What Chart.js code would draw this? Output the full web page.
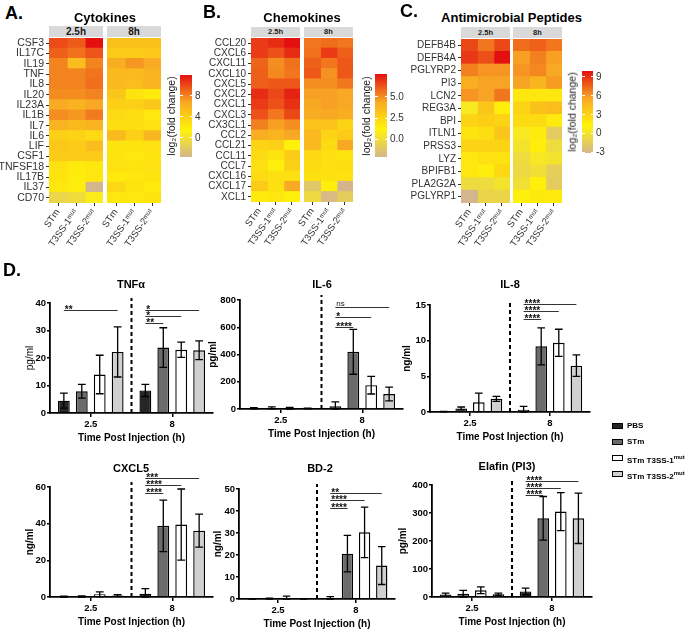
<!DOCTYPE html>
<html>
<head>
<meta charset="utf-8">
<title>Host response to STm and T3SS mutants</title>
<script src="https://cdn.jsdelivr.net/npm/chart.js@4.4.1/dist/chart.umd.min.js"></script>
<style>
  body { margin: 0; background: #fff; }
  #fig { position: relative; width: 696px; height: 631px; overflow: hidden; font-family: "Liberation Sans", Arial, sans-serif; }
  #fig canvas { position: absolute; }
  .t { position: absolute; white-space: nowrap; line-height: 1; transform: translate(-50%, -50%); }
  .strip { position: absolute; background: #d9d9d9; color: #1a1a1a; font-weight: bold; display: flex; align-items: center; justify-content: center; line-height: 1; }
  .lg { position: absolute; font-weight: bold; font-size: 8px; line-height: 1; white-space: nowrap; }
  .lg sup { font-size: 6px; }
</style>
</head>
<body>
<div id="fig"></div>
<script>
// ---- heatmaps: log2(fold change), rows = genes, cols = STm, T3SS-1mut, T3SS-2mut ----
const heatCols = ['STm', 'T3SS-1ᵐᵘᵗ', 'T3SS-2ᵐᵘᵗ'];

const cytoGenes = ['CSF3', 'IL17C', 'IL19', 'TNF', 'IL8', 'IL20', 'IL23A', 'IL1B', 'IL7', 'IL6', 'LIF', 'CSF1', 'TNFSF18', 'IL17B', 'IL37', 'CD70'];
const cyto2h = [[9.9, 9.4, 11.9], [9.2, 8.6, 9.6], [8.0, 5.3, 8.0], [8.0, 8.0, 8.5], [8.0, 8.0, 8.7], [7.7, 7.7, 8.0],
  [6.5, 6.0, 6.7], [7.7, 7.3, 8.3], [6.0, 5.5, 6.0], [4.0, 3.7, 3.3], [4.5, 4.3, 5.3], [4.3, 4.3, 4.3],
  [2.8, 2.1, 2.4], [2.6, 2.0, 2.4], [2.4, 2.0, -3.6], [-1.0, -0.5, 1.05]];
const cyto8h = [[5.0, 5.0, 5.0], [4.3, 4.3, 4.5], [6.3, 7.3, 6.5], [5.5, 5.5, 6.0], [5.5, 5.3, 6.0], [4.7, 2.6, 2.2],
  [4.0, 4.0, 4.7], [3.3, 3.0, 2.4], [3.0, 3.0, 2.8], [5.5, 4.0, 5.7], [2.6, 2.6, 2.8], [2.6, 2.4, 2.6],
  [2.8, 2.6, 2.8], [2.2, 2.4, 2.6], [3.5, 2.6, 2.1], [2.4, 2.4, 2.6]];

const chemoGenes = ['CCL20', 'CXCL6', 'CXCL11', 'CXCL10', 'CXCL5', 'CXCL2', 'CXCL1', 'CXCL3', 'CX3CL1', 'CCL2', 'CCL21', 'CCL11', 'CCL7', 'CXCL16', 'CXCL17', 'XCL1'];
const chemo2h = [[6.8, 7.1, 7.7], [6.8, 6.3, 7.1], [5.9, 5.0, 5.6], [6.0, 5.1, 5.5], [6.0, 6.15, 6.15], [7.1, 6.5, 7.3],
  [6.8, 6.3, 7.0], [6.3, 5.5, 6.5], [5.3, 4.6, 5.0], [4.2, 3.9, 4.4], [2.5, 2.7, 1.3], [2.2, 1.8, 2.9],
  [2.0, 1.3, 2.7], [2.2, 2.0, 2.0], [2.9, 2.0, 4.4], [1.5, 1.7, 1.3]];
const chemo8h = [[5.5, 5.7, 5.5], [5.6, 6.8, 6.0], [6.0, 5.5, 6.15], [6.15, 4.9, 6.15], [5.0, 5.0, 5.5], [4.6, 4.6, 4.4],
  [4.4, 4.6, 4.4], [4.2, 4.4, 4.2], [3.3, 3.3, 2.5], [3.7, 2.5, 2.9], [3.7, 2.2, 4.4], [2.3, 2.0, 1.8],
  [2.2, 2.0, 2.1], [2.0, 1.9, 1.9], [-1.2, 1.4, -2.1], [-0.2, -1.9, -0.9]];

const ampGenes = ['DEFB4B', 'DEFB4A', 'PGLYRP2', 'PI3', 'LCN2', 'REG3A', 'BPI', 'ITLN1', 'PRSS3', 'LYZ', 'BPIFB1', 'PLA2G2A', 'PGLYRP1'];
const amp2h = [[8.3, 7.0, 8.3], [8.75, 8.1, 9.9], [6.7, 6.1, 6.1], [5.2, 5.7, 5.7], [6.1, 5.7, 7.0], [0.5, 3.9, 1.5],
  [3.0, 3.3, 3.0], [2.1, 2.4, 3.9], [3.0, 3.0, 3.0], [1.9, 2.3, 2.3], [1.9, 1.5, 2.8], [-0.5, -0.5, 0.1], [-3.1, -0.9, -0.9]];
const amp8h = [[7.25, 7.6, 7.0], [5.8, 6.7, 5.8], [6.1, 6.5, 5.5], [5.7, 4.8, 5.9], [1.9, 1.9, 1.9], [3.0, 4.1, 4.3],
  [2.6, 2.6, 1.7], [0.5, 1.7, -1.6], [0.1, 1.5, -0.5], [-0.5, 0.4, 0.1], [-0.6, -0.2, -1.4], [-0.2, 1.4, -1.6], [1.4, 1.8, 1.7]];

// ---- bar panels: mean / SD per [time][strain] ----
const timeLabels = ['2.5', '8'];
const strains = ['PBS', 'STm', 'STm T3SS-1mut', 'STm T3SS-2mut'];

const tnfMean = [[4.5, 7.9, 14.0, 22.2], [8.2, 23.8, 23.0, 22.8]];
const tnfSd = [[2.7, 2.5, 7.0, 9.1], [2.2, 7.2, 2.8, 3.4]];
const il6Mean = [[5, 8, 6, 4], [20, 420, 175, 110]];
const il6Sd = [[4, 7, 6, 3], [32, 165, 65, 50]];
const il8Mean = [[0.05, 0.5, 1.35, 1.85], [0.3, 9.2, 9.7, 6.5]];
const il8Sd = [[0.03, 0.2, 1.3, 0.35], [0.5, 2.6, 1.9, 1.5]];
const cxcl5Mean = [[0.2, 0.3, 1.5, 0.8], [1.8, 38.8, 39.5, 36.2]];
const cxcl5Sd = [[0.2, 0.3, 1.3, 0.5], [2.8, 14, 19.4, 9]];
const bd2Mean = [[0.1, 0.15, 0.4, 0.1], [0.3, 20.6, 30.3, 15.2]];
const bd2Sd = [[0.1, 0.2, 0.9, 0.1], [0.8, 8.3, 11.5, 8.6]];
const elafinMean = [[8.5, 12, 24, 9.5], [20, 281, 305, 281]];
const elafinSd = [[5.5, 12, 12, 4], [12, 78, 68, 90]];

// significance brackets vs PBS: time index, strain index, height (axis units), label
const tnfSig = [[0, 3, 37.6, '**'], [1, 3, 37.6, '*'], [1, 2, 35.2, '*'], [1, 1, 32.7, '**']];
const il6Sig = [[1, 3, 751, 'ns'], [1, 2, 678, '*'], [1, 1, 605, '****']];
const il8Sig = [[1, 3, 15.1, '****'], [1, 2, 14.1, '****'], [1, 1, 13.1, '****']];
const cxcl5Sig = [[1, 3, 64.9, '***'], [1, 2, 61.3, '****'], [1, 1, 56.7, '****']];
const bd2Sig = [[1, 3, 48.2, '**'], [1, 2, 44.8, '****'], [1, 1, 41.4, '****']];
const elafinSig = [[1, 3, 415, '****'], [1, 2, 391, '****'], [1, 1, 366, '****']];

const barFills = ['#262626', '#6b6b6b', '#ffffff', '#d0d0d0'];
const heatStops = [[212, 182, 140], [255, 243, 10], [248, 168, 36], [228, 16, 16]];

Chart.defaults.font.family = '"Liberation Sans", Arial, sans-serif';

const fig = document.getElementById('fig');

function text(str, cx, cy, size, extra) {
  const d = document.createElement('div');
  d.className = 't';
  d.textContent = str;
  d.style.left = cx + 'px';
  d.style.top = cy + 'px';
  d.style.fontSize = size + 'px';
  Object.assign(d.style, extra || {});
  fig.appendChild(d);
  return d;
}

function makeCanvas(left, top, w, h) {
  const c = document.createElement('canvas');
  c.width = w;
  c.height = h;
  c.style.left = left + 'px';
  c.style.top = top + 'px';
  c.style.width = w + 'px';
  c.style.height = h + 'px';
  fig.appendChild(c);
  return c;
}

function heatColor(v, lo, hi) {
  const t = Math.min(Math.max((v - lo) / (hi - lo), 0), 1) * 3;
  const i = Math.min(Math.floor(t), 2);
  const f = t - i;
  const a = heatStops[i], b = heatStops[i + 1];
  return 'rgb(' + a.map((c, k) => Math.round(c + (b[k] - c) * f)).join(',') + ')';
}

// one facet of a heatmap, cells are stacked horizontal bars of width 1
function heatFacet(genes, rows, lo, hi, box, showGenes, fontSize) {
  const yW = showGenes ? box.yW : 0;
  const padL = showGenes ? 0 : 8, padR = 8, padT = 10, xH = 52;
  const cw = box.right - box.left, ch = box.bottom - box.top;
  const canvas = makeCanvas(box.left - yW - padL, box.top - padT, padL + yW + cw + padR, padT + ch + xH);
  new Chart(canvas, {
    type: 'bar',
    data: {
      labels: genes,
      datasets: heatCols.map((col, j) => ({
        label: col,
        data: genes.map(() => 1),
        backgroundColor: rows.map((r) => heatColor(r[j], lo, hi)),
        borderWidth: 0,
        inflateAmount: 0.6,
        barPercentage: 1,
        categoryPercentage: 1,
      })),
    },
    options: {
      indexAxis: 'y',
      responsive: false,
      animation: false,
      events: [],
      layout: { padding: { top: padT, left: padL, right: padR, bottom: 0 } },
      plugins: { legend: { display: false }, tooltip: { enabled: false } },
      scales: {
        x: {
          type: 'linear',
          stacked: true,
          min: 0,
          max: 3,
          afterBuildTicks: (s) => { s.ticks = [{ value: 0.5 }, { value: 1.5 }, { value: 2.5 }]; },
          afterFit: (s) => { s.height = xH; },
          ticks: {
            autoSkip: false, minRotation: 55, maxRotation: 55, padding: 1, color: '#333',
            font: { size: 9.5 }, callback: (v, i) => heatCols[i],
          },
          grid: { drawOnChartArea: false, tickLength: 3, color: '#333' },
          border: { display: false },
        },
        y: {
          display: showGenes,
          stacked: true,
          afterFit: (s) => { s.width = yW; },
          ticks: { autoSkip: false, padding: 2, color: '#333', font: { size: fontSize } },
          grid: { offset: false, drawOnChartArea: false, tickLength: 3, color: '#333' },
          border: { display: false },
        },
      },
    },
  });
}

function heatmap(h) {
  const all = h.early.concat(h.late).flat();
  const lo = Math.min(...all), hi = Math.max(...all);
  heatFacet(h.genes, h.early, lo, hi, { left: h.x1, right: h.x1 + h.w, top: h.top, bottom: h.bottom, yW: h.yW }, true, h.font);
  heatFacet(h.genes, h.late, lo, hi, { left: h.x2, right: h.x2 + h.w, top: h.top, bottom: h.bottom }, false, h.font);

  // facet strips
  [[h.x1, '2.5h'], [h.x2, '8h']].forEach(([x, lab]) => {
    const s = document.createElement('div');
    s.className = 'strip';
    s.textContent = lab;
    Object.assign(s.style, { left: x + 'px', width: h.w + 'px', top: h.stripTop + 'px', height: (h.top - h.stripTop - 1) + 'px', fontSize: h.stripFont + 'px' });
    fig.appendChild(s);
  });
  text(h.title, (h.x1 + h.x2 + h.w) / 2, 17, 13, { fontWeight: 'bold', color: '#000' });

  // colour bar
  const cb = h.cbar;
  const bar = document.createElement('div');
  const grad = heatStops.map((c, i) => `rgb(${c.join(',')}) ${(i * 100 / 3).toFixed(2)}%`).join(', ');
  Object.assign(bar.style, {
    position: 'absolute', left: cb.x + 'px', top: cb.top + 'px', width: cb.w + 'px',
    height: (cb.bottom - cb.top) + 'px', background: `linear-gradient(to top, ${grad})`,
  });
  fig.appendChild(bar);
  cb.ticks.forEach((v) => {
    const y = cb.bottom - (v - lo) / (hi - lo) * (cb.bottom - cb.top);
    [cb.x, cb.x + cb.w - 2.5].forEach((x) => {
      const m = document.createElement('div');
      Object.assign(m.style, { position: 'absolute', left: x + 'px', top: (y - 0.5) + 'px', width: '2.5px', height: '1px', background: '#fff' });
      fig.appendChild(m);
    });
    const lab = text(cb.fmt(v), 0, y, 10, { color: '#333', transform: 'translate(0,-50%)' });
    lab.style.left = (cb.x + cb.w + 3) + 'px';
  });
  const ttl = text('', cb.labelX, (cb.top + cb.bottom) / 2, 10.5, { color: '#1a1a1a', transform: 'translate(-50%,-50%) rotate(-90deg)' });
  ttl.textContent = 'log₂(fold change)';
}

heatmap({
  title: 'Cytokines', genes: cytoGenes, early: cyto2h, late: cyto8h,
  x1: 49, x2: 107, w: 54, top: 38, bottom: 203, stripTop: 26, stripFont: 10, yW: 49, font: 10.5,
  cbar: { x: 180, w: 12, top: 75, bottom: 157, ticks: [0, 4, 8], fmt: (v) => String(v), labelX: 171 },
});
heatmap({
  title: 'Chemokines', genes: chemoGenes, early: chemo2h, late: chemo8h,
  x1: 251, x2: 304, w: 49, top: 38, bottom: 202, stripTop: 27, stripFont: 7.5, yW: 50, font: 10,
  cbar: { x: 375, w: 12, top: 74, bottom: 157, ticks: [0, 2.5, 5], fmt: (v) => v.toFixed(1), labelX: 366 },
});
heatmap({
  title: 'Antimicrobial Peptides', genes: ampGenes, early: amp2h, late: amp8h,
  x1: 461, x2: 513, w: 49, top: 39, bottom: 203, stripTop: 27, stripFont: 7.5, yW: 55, font: 10,
  cbar: { x: 582, w: 11, top: 71, bottom: 153, ticks: [-3, 0, 3, 6, 9], fmt: (v) => String(v), labelX: 572 },
});

// error bars, divider and significance brackets
function extras(p) {
  return {
    id: 'extras',
    afterDatasetsDraw(chart) {
      const { ctx, chartArea, scales: { x, y } } = chart;
      ctx.save();
      // dashed divider between time points
      const xm = (x.getPixelForValue(0) + x.getPixelForValue(1)) / 2;
      ctx.setLineDash([4, 3]);
      ctx.lineWidth = 2;
      ctx.strokeStyle = '#000';
      ctx.beginPath();
      ctx.moveTo(xm, chartArea.bottom);
      ctx.lineTo(xm, chartArea.top - 5);
      ctx.stroke();
      ctx.setLineDash([]);

      // SD error bars
      ctx.lineWidth = 1.3;
      chart.data.datasets.forEach((ds, k) => {
        chart.getDatasetMeta(k).data.forEach((bar, g) => {
          const m = p.mean[g][k], sd = p.sd[g][k];
          const yt = y.getPixelForValue(m + sd);
          const yb = y.getPixelForValue(Math.max(m - sd, 0));
          const cap = bar.width * 0.33;
          ctx.beginPath();
          ctx.moveTo(bar.x, yt); ctx.lineTo(bar.x, yb);
          ctx.moveTo(bar.x - cap, yt); ctx.lineTo(bar.x + cap, yt);
          ctx.moveTo(bar.x - cap, yb); ctx.lineTo(bar.x + cap, yb);
          ctx.stroke();
        });
      });

      // brackets
      ctx.lineWidth = 1;
      ctx.strokeStyle = '#333';
      ctx.fillStyle = '#111';
      ctx.textAlign = 'left';
      ctx.textBaseline = 'alphabetic';
      p.sig.forEach(([g, to, val, lab]) => {
        const x1 = chart.getDatasetMeta(0).data[g].x;
        const x2 = chart.getDatasetMeta(to).data[g].x;
        const yy = Math.round(y.getPixelForValue(val)) + 0.5;
        ctx.beginPath();
        ctx.moveTo(x1, yy); ctx.lineTo(x2, yy);
        ctx.stroke();
        if (lab === 'ns') {
          ctx.font = '8px "Liberation Sans", Arial, sans-serif';
          ctx.fillText(lab, x1 + 1, yy - 1.5);
        } else {
          ctx.font = 'bold 10px "Liberation Sans", Arial, sans-serif';
          ctx.fillText(lab, x1 + 1, yy + 2.5);
        }
      });
      ctx.restore();
    },
  };
}

function barPanel(p) {
  const W = p.axisX - p.titleX + 10, padT = 26, padR = 3, xH = 35;
  const canvas = makeCanvas(p.axisX - W, p.yTop - padT, W + (p.endX - p.axisX) + padR, padT + (p.y0 - p.yTop) + xH);
  new Chart(canvas, {
    type: 'bar',
    data: {
      labels: timeLabels,
      datasets: strains.map((s, k) => ({
        label: s,
        data: timeLabels.map((t, g) => p.mean[g][k]),
        backgroundColor: barFills[k],
        borderColor: '#000',
        borderWidth: 1.4,
        barPercentage: 0.66,
        categoryPercentage: 0.88,
      })),
    },
    options: {
      responsive: false,
      animation: false,
      events: [],
      layout: { padding: { top: padT, left: 0, right: padR, bottom: 0 } },
      plugins: { legend: { display: false }, tooltip: { enabled: false } },
      scales: {
        x: {
          afterFit: (s) => { s.height = xH; },
          grid: { offset: false, drawOnChartArea: false, tickLength: 4, color: '#000', lineWidth: 1.5 },
          border: { color: '#000', width: 1.8 },
          ticks: { color: '#000', font: { size: 9.5, weight: 'bold' }, padding: 2 },
          title: { display: true, text: 'Time Post Injection (h)', color: '#000', font: { size: 10, weight: 'bold' }, padding: { top: 2, bottom: 4 } },
        },
        y: {
          min: 0,
          max: p.max,
          afterFit: (s) => { s.width = W; },
          ticks: { stepSize: p.step, color: '#000', font: { size: 9.5, weight: 'bold' }, padding: 1 },
          grid: { drawOnChartArea: false, tickLength: 3, color: '#000', lineWidth: 1.5 },
          border: { color: '#000', width: 1.8 },
          title: { display: true, text: p.unit, color: '#000', font: { size: 10, weight: p.unitBold ? 'bold' : 'normal' }, padding: { top: 4, bottom: 0 } },
        },
      },
    },
    plugins: [extras(p)],
  });
  text(p.title, p.titleCx, p.titleCy, 11, { fontWeight: 'bold', color: '#000' });
}

barPanel({ title: 'TNFα', titleCx: 131, titleCy: 284, mean: tnfMean, sd: tnfSd, sig: tnfSig, axisX: 50, endX: 213, yTop: 303, y0: 413, titleX: 30, max: 40, step: 10, unit: 'pg/ml', unitBold: false });
barPanel({ title: 'IL-6', titleCx: 322, titleCy: 284, mean: il6Mean, sd: il6Sd, sig: il6Sig, axisX: 240, endX: 403, yTop: 300, y0: 409, titleX: 213, max: 800, step: 200, unit: 'pg/ml', unitBold: true });
barPanel({ title: 'IL-8', titleCx: 510, titleCy: 284, mean: il8Mean, sd: il8Sd, sig: il8Sig, axisX: 430, endX: 590, yTop: 305, y0: 412, titleX: 407, max: 15, step: 5, unit: 'ng/ml', unitBold: true });
barPanel({ title: 'CXCL5', titleCx: 131, titleCy: 468, mean: cxcl5Mean, sd: cxcl5Sd, sig: cxcl5Sig, axisX: 50, endX: 213, yTop: 487, y0: 597, titleX: 30, max: 60, step: 20, unit: 'ng/ml', unitBold: true });
barPanel({ title: 'BD-2', titleCx: 320, titleCy: 468, mean: bd2Mean, sd: bd2Sd, sig: bd2Sig, axisX: 239, endX: 395, yTop: 489, y0: 599, titleX: 218, max: 50, step: 10, unit: 'ng/ml', unitBold: true });
barPanel({ title: 'Elafin (PI3)', titleCx: 507, titleCy: 466, mean: elafinMean, sd: elafinSd, sig: elafinSig, axisX: 432, endX: 592, yTop: 485, y0: 597, titleX: 403, max: 400, step: 100, unit: 'pg/ml', unitBold: true });

// legend for bar panels
const legendNames = ['PBS', 'STm', 'STm T3SS-1<sup>mut</sup>', 'STm T3SS-2<sup>mut</sup>'];
[426, 442, 458, 474].forEach((cy, k) => {
  const sw = document.createElement('div');
  Object.assign(sw.style, { position: 'absolute', left: '612px', top: (cy - 3.5) + 'px', width: '9px', height: '4px', background: barFills[k], border: '1.5px solid #000' });
  fig.appendChild(sw);
  const lab = document.createElement('div');
  lab.className = 'lg';
  lab.innerHTML = legendNames[k];
  Object.assign(lab.style, { left: '627px', top: (cy - 4) + 'px' });
  fig.appendChild(lab);
});

// panel letters
[['A.', 14, 13], ['B.', 212, 12], ['C.', 409, 11], ['D.', 12, 270]].forEach(([s, x, y]) => {
  text(s, x, y, 18, { fontWeight: 'bold', color: '#000' });
});
</script>
</body>
</html>
